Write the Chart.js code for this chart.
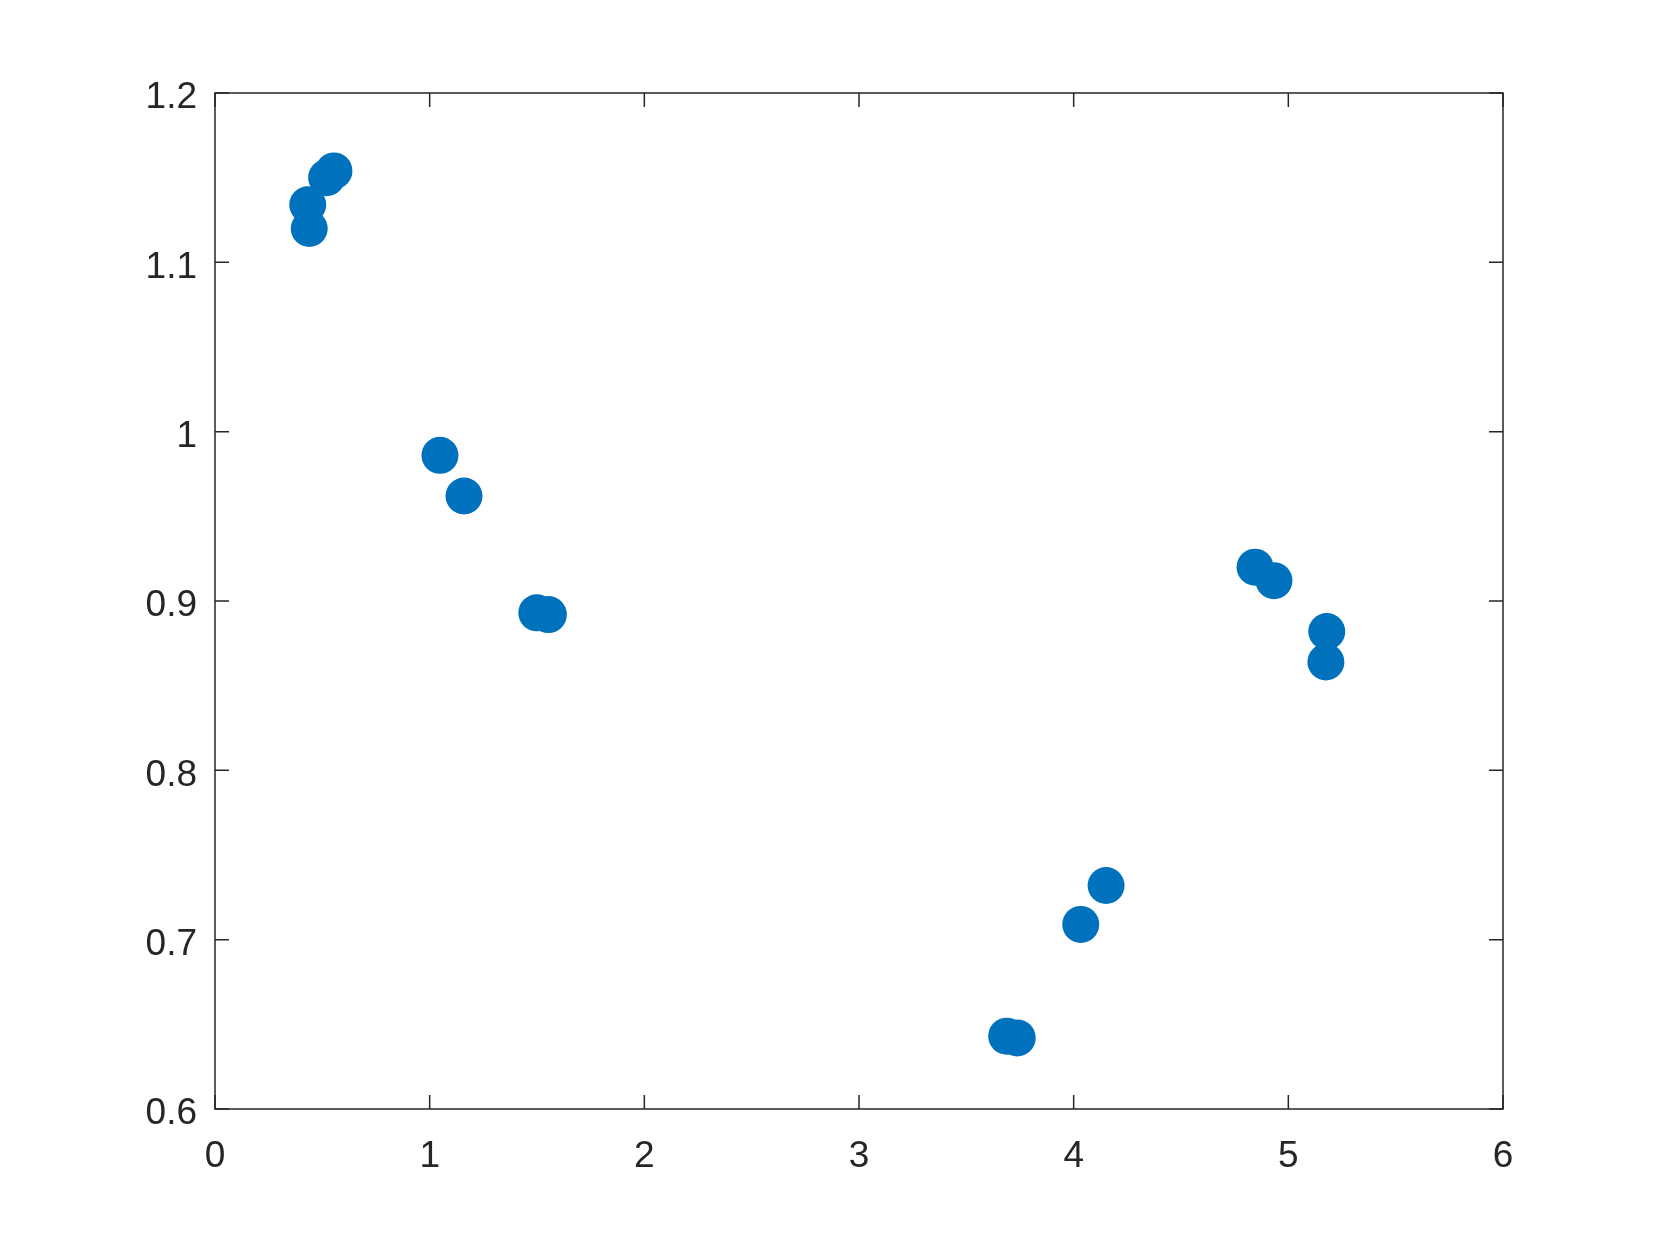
<!DOCTYPE html>
<html>
<head>
<meta charset="utf-8">
<script src="https://cdn.jsdelivr.net/npm/chart.js@4"></script>
<style>
  html, body { margin: 0; padding: 0; background: #fff; }
  canvas { display: block; }
</style>
</head>
<body>
<canvas id="chart" width="1661" height="1246"></canvas>
<script>
// scatter values
const xValues = [0.432, 0.439, 0.520, 0.554, 1.048, 1.160, 1.499, 1.553,
                 3.688, 3.737, 4.033, 4.151, 4.845, 4.933, 5.179, 5.175];
const yValues = [1.134, 1.120, 1.150, 1.154, 0.986, 0.962, 0.893, 0.892,
                 0.643, 0.642, 0.709, 0.732, 0.920, 0.912, 0.882, 0.864];

const xTicks = [0, 1, 2, 3, 4, 5, 6];
const xTickLabels = ['0', '1', '2', '3', '4', '5', '6'];
const yTicks = [0.6, 0.7, 0.8, 0.9, 1.0, 1.1, 1.2];
const yTickLabels = ['0.6', '0.7', '0.8', '0.9', '1', '1.1', '1.2'];

const axisColor = '#262626';
const points = xValues.map((x, i) => ({ x: x, y: yValues[i] }));

// matlab style box with inward ticks on all four sides
const boxTicks = {
  id: 'boxTicks',
  afterDraw(chart) {
    const ctx = chart.ctx;
    const a = chart.chartArea;
    const len = 14;
    ctx.save();
    ctx.strokeStyle = axisColor;
    ctx.lineWidth = 1.5;
    ctx.beginPath();
    xTicks.forEach(v => {
      const px = chart.scales.x.getPixelForValue(v);
      ctx.moveTo(px, a.bottom); ctx.lineTo(px, a.bottom - len);
      ctx.moveTo(px, a.top); ctx.lineTo(px, a.top + len);
    });
    yTicks.forEach(v => {
      const py = chart.scales.y.getPixelForValue(v);
      ctx.moveTo(a.left, py); ctx.lineTo(a.left + len, py);
      ctx.moveTo(a.right, py); ctx.lineTo(a.right - len, py);
    });
    ctx.stroke();
    ctx.strokeRect(a.left, a.top, a.right - a.left, a.bottom - a.top);
    ctx.restore();
  }
};

new Chart(document.getElementById('chart'), {
  type: 'scatter',
  data: {
    datasets: [{
      data: points,
      backgroundColor: '#0072BD',
      borderWidth: 0,
      pointRadius: 18.5,
      pointHoverRadius: 18.5
    }]
  },
  options: {
    responsive: false,
    animation: false,
    layout: { padding: { top: 93, right: 158, left: 0, bottom: 0 } },
    plugins: { legend: { display: false }, tooltip: { enabled: false } },
    scales: {
      x: {
        type: 'linear',
        min: 0, max: 6,
        afterFit(scale) { scale.height = 137; },
        afterBuildTicks(scale) { scale.ticks = xTicks.map(v => ({ value: v })); },
        grid: { display: false, drawTicks: false },
        border: { display: false },
        ticks: {
          padding: 26,
          color: axisColor,
          font: { family: '"Liberation Sans", Arial, sans-serif', size: 37 },
          callback: (v, i) => xTickLabels[i]
        }
      },
      y: {
        type: 'linear',
        min: 0.6, max: 1.2,
        afterFit(scale) { scale.width = 215; },
        afterBuildTicks(scale) { scale.ticks = yTicks.map(v => ({ value: v })); },
        grid: { display: false, drawTicks: false },
        border: { display: false },
        ticks: {
          padding: 18,
          labelOffset: 5,
          color: axisColor,
          font: { family: '"Liberation Sans", Arial, sans-serif', size: 37 },
          callback: (v, i) => yTickLabels[i]
        }
      }
    }
  },
  plugins: [boxTicks]
});
</script>
</body>
</html>
